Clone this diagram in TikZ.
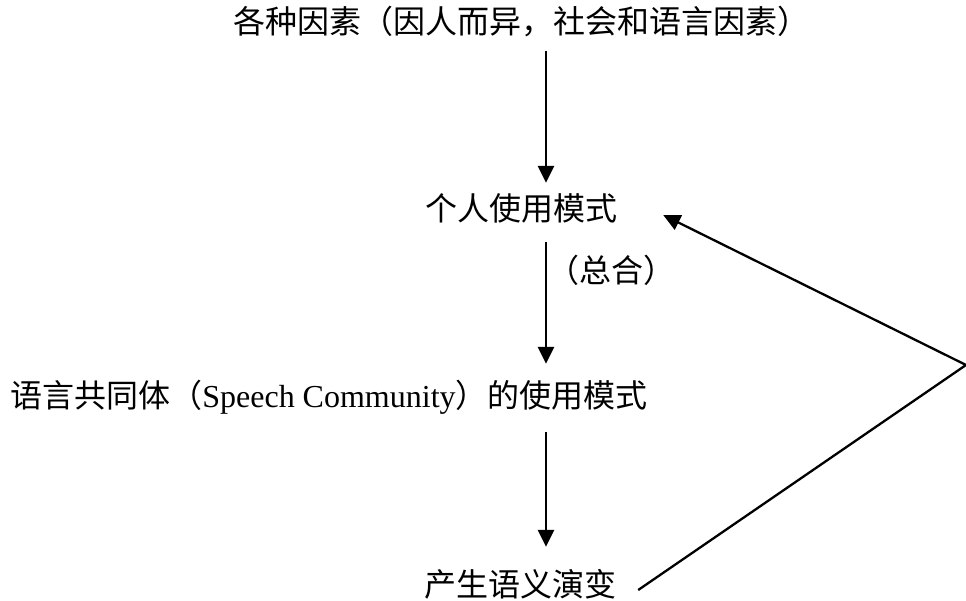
\documentclass[tikz,border=0pt]{standalone}
\usepackage{fontspec}
\setmainfont{Liberation Serif}
\newfontfamily\cjk{Noto Sans CJK SC}
\usetikzlibrary{arrows.meta}

\tikzset{
  txt/.style={font=\fontsize{32}{38}\selectfont, inner sep=0pt, text height=25pt, text depth=3pt},
  flow/.style={-{Triangle[length=17pt,width=16pt]}, line width=2.8pt},
}

\begin{document}
\begin{tikzpicture}[x=1pt,y=-1pt]
  \useasboundingbox (0,0) rectangle (966,601);
  \node[txt] (fac) at (521,23) {\cjk 各种因素（因人而异，社会和语言因素）};
  \node[txt] (ind) at (521,210) {\cjk 个人使用模式};
  \node[txt] (com) at (329,396) {{\cjk 语言共同体（}Speech Community{\cjk ）的使用模式}};
  \node[txt] (res) at (520,585) {\cjk 产生语义演变};
  \coordinate (axis) at (546,0);
  \coordinate (bend) at (966,365);
  \path[flow]
  (fac.south -| axis) edge[shorten <=14pt, shorten >=13pt] (ind.north -| axis)
  (ind.south -| axis) edge[shorten <=18pt, shorten >=18pt] node[txt, right, pos=0.3] (sum) {\cjk （总合）} (com.north -| axis)
  (com.south -| axis) edge[shorten <=22pt, shorten >=24pt] (res.north -| axis)
  ;
  \draw[flow, line width=2.3pt] ([xshift=22pt,yshift=-5pt]res.east) -- (bend) -- ([xshift=46pt,yshift=-5pt]ind.east);
\end{tikzpicture}
\end{document}
